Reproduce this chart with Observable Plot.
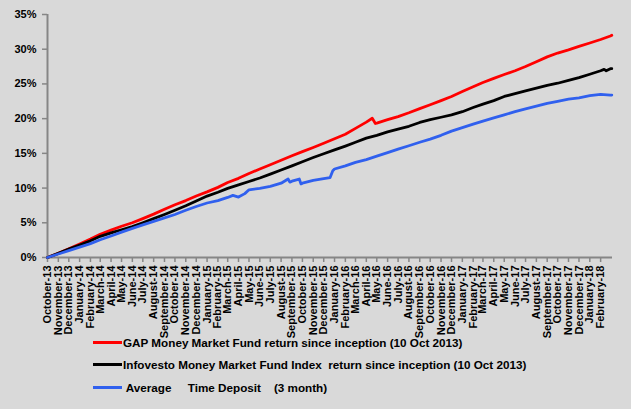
<!DOCTYPE html>
<html><head><meta charset="utf-8">
<script src="https://cdn.jsdelivr.net/npm/d3@7"></script>
<script src="https://cdn.jsdelivr.net/npm/@observablehq/plot@0.6"></script>
<style>
html,body{margin:0;padding:0;background:#d9d9d9;}
#wrap{position:relative;width:631px;height:409px;background:#d9d9d9;overflow:hidden;font-family:"Liberation Sans",Arial,sans-serif;}
#chart svg{display:block;}
.leg{position:absolute;left:93px;height:16px;display:flex;align-items:center;font-weight:bold;font-size:11.7px;white-space:pre;color:#000;}
.sw{width:29px;height:3px;margin-right:1px;flex:none;}
</style></head>
<body><div id="wrap"><div id="chart"></div><div id="legend"></div></div>
<script>
// Monthly observation dates (10th of each month since inception)
const months = ["2013-10-10","2013-11-10","2013-12-10",
"2014-01-10","2014-02-10","2014-03-10","2014-04-10","2014-05-10","2014-06-10","2014-07-10","2014-08-10","2014-09-10","2014-10-10","2014-11-10","2014-12-10",
"2015-01-10","2015-02-10","2015-03-10","2015-04-10","2015-05-10","2015-06-10","2015-07-10","2015-08-10","2015-09-10","2015-10-10","2015-11-10","2015-12-10",
"2016-01-10","2016-02-10","2016-03-10","2016-04-10","2016-05-10","2016-06-10","2016-07-10","2016-08-10","2016-09-10","2016-10-10","2016-11-10","2016-12-10",
"2017-01-10","2017-02-10","2017-03-10","2017-04-10","2017-05-10","2017-06-10","2017-07-10","2017-08-10","2017-09-10","2017-10-10","2017-11-10","2017-12-10",
"2018-01-10","2018-02-10","2018-03-10"];
const tickMonths = months.slice(0, 53);
const yTicks = [0, 5, 10, 15, 20, 25, 30, 35];
const xDomain = ["2013-10-10", "2018-03-16"];

const seriesNames = [
  "GAP Money Market Fund return since inception (10 Oct 2013)",
  "Infovesto Money Market Fund Index  return since inception (10 Oct 2013)",
  " Average     Time Deposit    (3 month)"
];
const seriesColors = ["#ff0000", "#000000", "#3060ee"];

const gapValues = [0,0.6,1.25,1.95,2.65,3.35,3.95,4.5,5.0,5.6,6.25,6.95,7.6,8.2,8.85,9.45,10.1,10.8,11.4,12.1,12.75,13.35,14.0,14.65,15.25,15.85,16.45,17.1,17.75,18.6,19.5,19.35,19.85,20.3,20.85,21.45,22.0,22.6,23.2,23.9,24.6,25.2,25.8,26.35,26.9,27.5,28.2,28.9,29.45,29.9,30.4,30.9,31.4,31.9];
const gapExtra = [["2016-04-27",20.05],["2016-05-06",19.3],["2018-03-14",32.0]];

const infovestoValues = [0,0.6,1.2,1.8,2.4,3.05,3.55,4.0,4.45,5.0,5.6,6.2,6.8,7.45,8.15,8.85,9.4,9.95,10.45,10.95,11.45,12.0,12.6,13.2,13.8,14.4,14.95,15.5,16.05,16.6,17.2,17.6,18.1,18.5,18.9,19.45,19.85,20.2,20.55,21.0,21.6,22.1,22.6,23.2,23.6,24.0,24.4,24.8,25.1,25.5,25.9,26.4,26.9,27.2];
const infovestoExtra = [["2018-02-20",27.1],["2018-02-26",26.9],["2018-03-14",27.2]];

const depositValues = [0,0.5,1.0,1.5,2.0,2.55,3.1,3.65,4.2,4.7,5.2,5.7,6.2,6.8,7.35,7.85,8.2,8.65,8.7,9.75,9.95,10.25,10.7,11.0,10.7,11.1,11.35,12.75,13.2,13.7,14.1,14.6,15.1,15.6,16.1,16.6,17.05,17.6,18.2,18.7,19.2,19.65,20.1,20.55,21.0,21.4,21.8,22.2,22.5,22.8,23.0,23.3,23.5,23.4];
const depositExtra = [["2015-03-25",8.95],["2015-04-28",9.2],["2015-08-30",11.3],["2015-09-04",10.85],["2015-10-01",11.3],["2015-10-06",10.6],["2015-12-28",11.5],["2016-01-05",12.5],["2018-03-14",23.4]];

function build(values, extra) {
  const rows = months.map((d, i) => ({date: new Date(d), value: values[i]}))
    .concat(extra.map(([d, v]) => ({date: new Date(d), value: v})));
  return rows.sort((a, b) => a.date - b.date);
}
const series = [build(gapValues, gapExtra), build(infovestoValues, infovestoExtra), build(depositValues, depositExtra)];

const axisGray = "#868686";
const chart = Plot.plot({
  width: 631, height: 330,
  marginLeft: 47, marginRight: 19, marginTop: 14, marginBottom: 73,
  style: {background: "transparent", fontFamily: "'Liberation Sans', Arial, sans-serif", fontSize: "11px", fontWeight: "bold", color: "#000", overflow: "visible"},
  x: {type: "utc", domain: xDomain.map(d => new Date(d))},
  y: {domain: [0, 35]},
  marks: [
    Plot.axisY({ticks: yTicks, tickFormat: d => d + "%", tickSize: 5, tickPadding: 6, stroke: axisGray, strokeWidth: 1.5, fill: "#000", label: null}),
    Plot.axisX({ticks: tickMonths.map(d => new Date(d)), tickFormat: d3.utcFormat("%B-%y"), tickRotate: -90, tickSize: 5, tickPadding: 3, stroke: axisGray, strokeWidth: 1.5, fill: "#000", label: null}),
    Plot.ruleX([new Date(xDomain[0])], {stroke: axisGray, strokeWidth: 2}),
    Plot.ruleY([0], {stroke: axisGray, strokeWidth: 2}),
    ...series.map((s, i) => Plot.line(s, {x: "date", y: "value", stroke: seriesColors[i], strokeWidth: 2.8, strokeLinejoin: "round"}))
  ]
});
document.getElementById("chart").appendChild(chart);

const legendTops = [334, 356, 379];
const legend = document.getElementById("legend");
seriesNames.forEach((name, i) => {
  const row = document.createElement("div");
  row.className = "leg";
  row.style.top = legendTops[i] + "px";
  const sw = document.createElement("span");
  sw.className = "sw";
  sw.style.background = seriesColors[i];
  const t = document.createElement("span");
  t.textContent = name;
  row.appendChild(sw); row.appendChild(t);
  legend.appendChild(row);
});
</script>
</body></html>
